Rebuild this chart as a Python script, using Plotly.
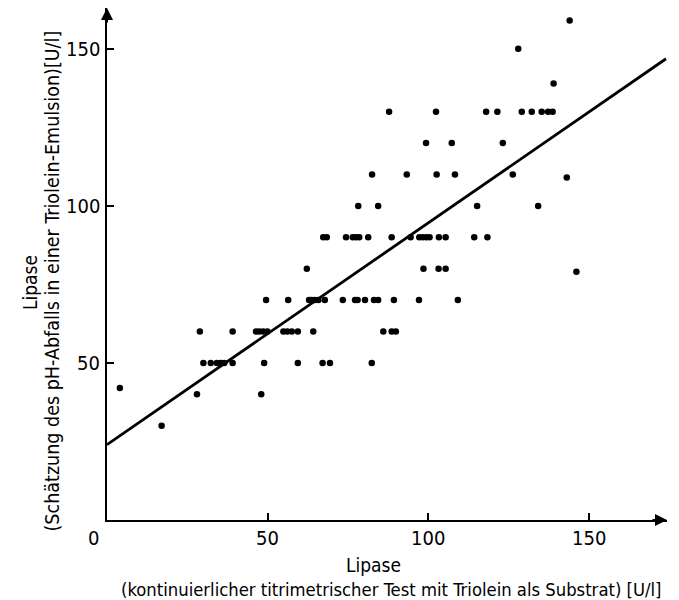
import plotly.graph_objects as go

# Data (x: titrimetric test, y: pH-drop estimate), U/l
x_vals = [17,
          28, 48,
          4,
          30, 32.3, 34.2, 35.4, 36.5, 39.1, 48.9, 59.4, 67.1, 69.4, 82.4,
          28.9, 39.1, 46.4, 47.4, 48.6, 49.9, 54.9, 56.1, 57.5, 59.4, 64.2, 86.0, 88.6, 89.9,
          49.5, 56.4, 62.9, 63.7, 64.7, 65.8, 67.8, 73.4, 77.2, 78.0, 80.3, 83.1, 84.4, 89.3, 97.1, 109.2,
          62.2, 98.5, 103.2, 105.4, 146.1,
          67.3, 68.4, 74.4, 76.5, 77.5, 78.5, 81.3, 88.6, 94.5, 97.2, 98.3, 99.4, 100.4, 103.3, 105.4, 114.3, 118.4,
          78.2, 84.4, 115.2, 134.2,
          82.5, 93.3, 102.6, 108.3, 126.3, 143.1,
          99.3, 107.3, 123.2,
          87.8, 102.4, 118.0, 121.5, 129.1, 132.2, 135.3, 137.3, 138.7,
          139, 128, 144]
y_vals = [30,
          40, 40,
          42,
          50, 50, 50, 50, 50, 50, 50, 50, 50, 50, 50,
          60, 60, 60, 60, 60, 60, 60, 60, 60, 60, 60, 60, 60, 60,
          70, 70, 70, 70, 70, 70, 70, 70, 70, 70, 70, 70, 70, 70, 70, 70,
          80, 80, 80, 80, 79,
          90, 90, 90, 90, 90, 90, 90, 90, 90, 90, 90, 90, 90, 90, 90, 90, 90,
          100, 100, 100, 100,
          110, 110, 110, 110, 110, 109,
          120, 120, 120,
          130, 130, 130, 130, 130, 130, 130, 130, 130,
          139, 150, 159]

# Regression line parameters
reg_intercept = 24.0
reg_slope = 0.706
line_x = [0, 174]
line_y = [reg_intercept + reg_slope * v for v in line_x]

x_ticks = [50, 100, 150]
x_tick_labels = ["50", "100", "150"]
y_ticks = [50, 100, 150]
y_tick_labels = ["50", "100", "150"]
x_max = 174.3
y_max = 163.0

FONT = "DejaVu Sans Condensed"

fig = go.Figure()
fig.add_trace(go.Scatter(x=line_x, y=line_y, mode="lines",
                         line=dict(color="black", width=2.8), hoverinfo="skip"))
fig.add_trace(go.Scatter(x=x_vals, y=y_vals, mode="markers",
                         marker=dict(color="black", size=6.5)))

fig.update_layout(
    width=671, height=592,
    margin=dict(l=99, r=12, t=0, b=80),
    paper_bgcolor="white", plot_bgcolor="white",
    showlegend=False,
    font=dict(family=FONT, size=20, color="black"),
    xaxis=dict(range=[0, x_max], tickvals=x_ticks, ticks="inside", ticklen=7,
               tickwidth=2, tickcolor="black", showline=True, linecolor="black",
               linewidth=2, showgrid=False, zeroline=False, showticklabels=False),
    yaxis=dict(range=[0, y_max], tickvals=y_ticks, ticks="inside", ticklen=7,
               tickwidth=2, tickcolor="black", showline=True, linecolor="black",
               linewidth=2, showgrid=False, zeroline=False, showticklabels=False),
)

# tick labels
for v, t in zip(x_ticks, x_tick_labels):
    fig.add_annotation(x=v, y=0, xref="x", yref="paper", text=t, showarrow=False,
                       yanchor="middle", yshift=-18, font=dict(size=20))
for v, t in zip(y_ticks, y_tick_labels):
    fig.add_annotation(x=0, y=v, xref="paper", yref="y", text=t, showarrow=False,
                       xanchor="right", xshift=-5, font=dict(size=20))
fig.add_annotation(x=0, y=0, xref="paper", yref="paper", text="0", showarrow=False,
                   xanchor="center", xshift=-14, yanchor="middle", yshift=-18,
                   font=dict(size=20))

# arrowheads at axis ends
fig.add_annotation(x=x_max, y=0, xref="x", yref="y", ax=-16, ay=0, text="",
                   showarrow=True, arrowhead=2, arrowsize=1.2, arrowwidth=2,
                   arrowcolor="black")
fig.add_annotation(x=0, y=y_max, xref="x", yref="y", ax=0, ay=16, text="",
                   showarrow=True, arrowhead=2, arrowsize=1.2, arrowwidth=2,
                   arrowcolor="black")

# axis titles
fig.add_annotation(x=(365 - 99) / 560, y=0, xref="paper", yref="paper", text="Lipase",
                   showarrow=False, xanchor="center", yanchor="middle", yshift=-45,
                   font=dict(size=19))
fig.add_annotation(x=(383 - 99) / 560, y=0, xref="paper", yref="paper",
                   text="(kontinuierlicher titrimetrischer Test mit Triolein als Substrat) [U/l]",
                   showarrow=False, xanchor="center", yanchor="middle", yshift=-69,
                   font=dict(size=18.3))
fig.add_annotation(x=0, y=(512 - 275) / 512, xref="paper", yref="paper", xshift=-77,
                   xanchor="center", yanchor="middle",
                   text="Lipase", showarrow=False, textangle=-90,
                   font=dict(size=19))
fig.add_annotation(x=0, y=(512 - 273.5) / 512, xref="paper", yref="paper", xshift=-55,
                   xanchor="center", yanchor="middle",
                   text="(Schätzung des pH-Abfalls in einer Triolein-Emulsion)[U/l]",
                   showarrow=False, textangle=-90, font=dict(size=19.5))

fig.write_html("out.html")
